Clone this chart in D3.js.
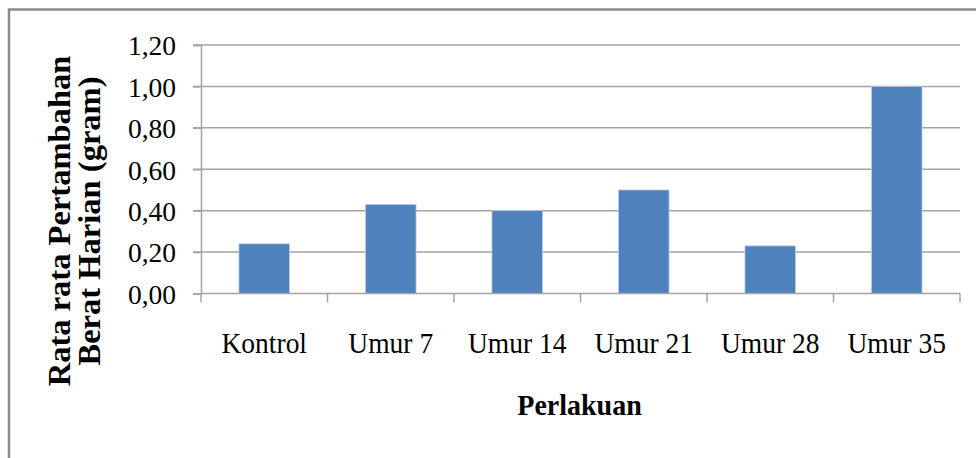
<!DOCTYPE html>
<html>
<head>
<meta charset="utf-8">
<script src="https://cdn.jsdelivr.net/npm/d3@7"></script>
<style>
  html, body { margin: 0; padding: 0; background: #fff; }
  svg { display: block; }
  text { font-family: "Liberation Serif", "Times New Roman", serif; fill: #000; }
</style>
</head>
<body>
<svg id="chart" width="976" height="458"></svg>
<script>
const categories = ["Kontrol", "Umur 7", "Umur 14", "Umur 21", "Umur 28", "Umur 35"];
const values = [0.24, 0.43, 0.40, 0.50, 0.23, 1.00];
const yTicks = [0, 0.2, 0.4, 0.6, 0.8, 1.0, 1.2];
const yTitleLines = ["Rata rata Pertambahan", "Berat Harian (gram)"];
const xTitle = "Perlakuan";

const svg = d3.select("#chart");
const m = { left: 201, right: 960, top: 45, bottom: 293.5 };

// outer frame (extends beyond right/bottom edges as in the reference)
svg.append("rect")
  .attr("x", 9).attr("y", 9.5)
  .attr("width", 1000).attr("height", 1000)
  .attr("fill", "none").attr("stroke", "#8a8a8a").attr("stroke-width", 2.5);

const x = d3.scaleBand().domain(categories).range([m.left, m.right]).paddingInner(0.6).paddingOuter(0.3);
const xb = d3.scaleBand().domain(categories).range([m.left, m.right]);
const y = d3.scaleLinear().domain([0, 1.2]).range([m.bottom, m.top]);

const gridColor = "#a3a3a3";
const fmt = d => d.toFixed(2).replace(".", ",");

// gridlines with outward ticks
svg.append("g").selectAll("line").data(yTicks.filter(d => d > 0)).join("line")
  .attr("x1", m.left - 8).attr("x2", m.right)
  .attr("y1", d => y(d)).attr("y2", d => y(d))
  .attr("stroke", gridColor).attr("stroke-width", 1.5);

// y axis via d3
const yAxis = svg.append("g").attr("transform", `translate(${m.left},0)`)
  .call(d3.axisLeft(y).tickValues(yTicks).tickFormat(fmt).tickSize(8).tickPadding(17));
yAxis.select(".domain").attr("stroke", gridColor).attr("stroke-width", 1.5);
yAxis.selectAll(".tick line").attr("stroke", gridColor).attr("stroke-width", 1.5);
yAxis.selectAll(".tick text")
  .attr("font-family", "'Liberation Serif', 'Times New Roman', serif")
  .attr("font-size", 27.5).attr("fill", "#000").attr("dy", "0.36em");

// bars
svg.append("g").selectAll("rect").data(categories).join("rect")
  .attr("x", d => x(d))
  .attr("width", x.bandwidth())
  .attr("y", (d, i) => y(values[i]))
  .attr("height", (d, i) => y(0) - y(values[i]))
  .attr("fill", "#4f81bd")
  .attr("stroke", "#bccde6").attr("stroke-width", 0.8);

// x axis
const xg = svg.append("g").attr("transform", `translate(0,${m.bottom})`);
xg.append("line").attr("x1", m.left).attr("x2", m.right).attr("y1", 0).attr("y2", 0)
  .attr("stroke", gridColor).attr("stroke-width", 1.5);
const edges = categories.map(c => xb(c)).concat([m.right]);
xg.selectAll("line.t").data(edges).join("line").attr("class", "t")
  .attr("x1", d => d).attr("x2", d => d).attr("y1", 0).attr("y2", 9)
  .attr("stroke", gridColor).attr("stroke-width", 1.5);
xg.selectAll("text").data(categories).join("text")
  .attr("transform", d => `translate(${xb(d) + xb.bandwidth() / 2},59) scale(1,1.07)`)
  .attr("text-anchor", "middle")
  .attr("font-size", 27.5)
  .text(d => d);

// x title
svg.append("text")
  .attr("transform", `translate(${(m.left + m.right) / 2 - 1},415) scale(1,1.07)`)
  .attr("text-anchor", "middle")
  .attr("font-size", 28).attr("font-weight", "bold")
  .text(xTitle);

// y title (two rotated lines)
svg.append("g").selectAll("text").data(yTitleLines).join("text")
  .attr("transform", (d, i) => `translate(${70 + i * 30},221) rotate(-90) scale(1.05,1)`)
  .attr("text-anchor", "middle")
  .attr("font-size", 31).attr("font-weight", "bold")
  .text(d => d);
</script>
</body>
</html>
